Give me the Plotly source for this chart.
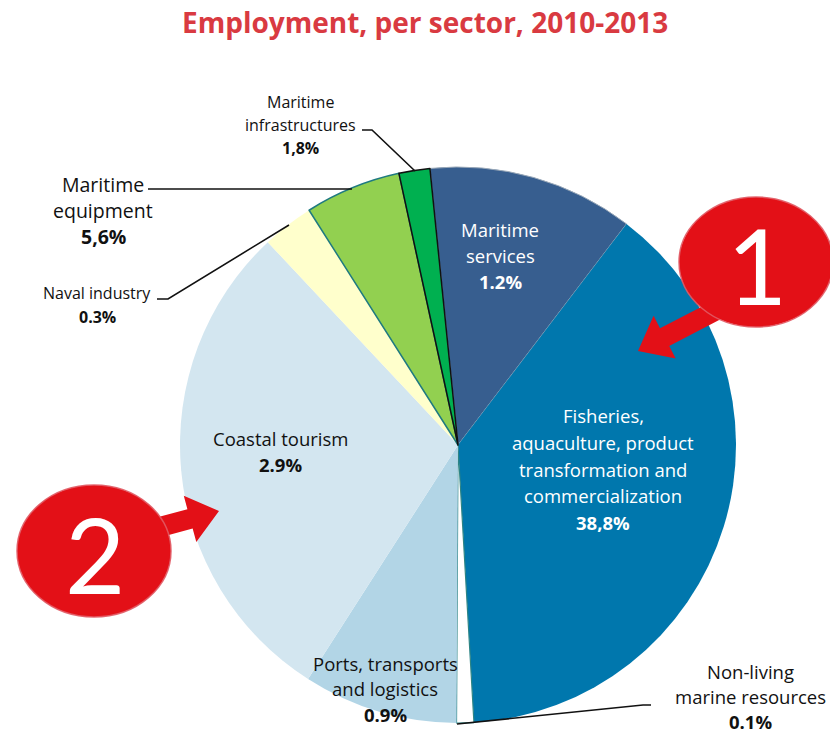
import math
import plotly.graph_objects as go

W, H = 830, 736

# Sector shares (slice sizes, percent of employment)
sectors = [
    "Maritime services",
    "Fisheries, aquaculture, product transformation and commercialization",
    "Non-living marine resources",
    "Ports, transports and logistics",
    "Coastal tourism",
    "Naval industry",
    "Maritime equipment",
    "Maritime infrastructures",
]
shares = [12.0, 38.8, 1.0, 9.0, 29.0, 3.0, 5.6, 1.8]
# Percentage strings printed next to each sector
share_labels = ["1.2%", "38,8%", "0.1%", "0.9%", "2.9%", "0.3%", "5,6%", "1,8%"]

colors = ["#375E8F", "#0077AD", "#FFFFFF", "#B2D5E6", "#D3E6F0", "#FFFFCC", "#92D050", "#00B050"]
line_colors = ["#9AA9B9", "#0077AD", "#2E8585", "#B2D5E6", "#D3E6F0", "#FFFFCC", "#1F7A80", "#111111"]
line_widths = [1, 0, 1.2, 0, 0, 0, 1.5, 1.5]


def px(x):
    return x / W


def py(y):
    return 1 - y / H


# Pie placement (pixels): centre and radius
cx, cy, r = 458, 445, 278

fig = go.Figure(
    go.Pie(
        labels=sectors,
        values=shares,
        sort=False,
        direction="clockwise",
        rotation=-5.8,
        textinfo="none",
        hoverinfo="label+value",
        marker=dict(colors=colors, line=dict(color=line_colors, width=line_widths)),
        domain=dict(x=[px(cx - r), px(cx + r)], y=[py(cy + r), py(cy - r)]),
        showlegend=False,
    )
)

annotations = []
FONT = "Open Sans"


def add_lines(lines, x, y0, step, size, color, pct):
    for i, t in enumerate(lines):
        annotations.append(dict(
            x=px(x), y=py(y0 + i * step), xref="paper", yref="paper",
            text=t, showarrow=False, xanchor="center", yanchor="middle",
            font=dict(family=FONT, size=size, color=color),
        ))
    annotations.append(dict(
        x=px(x), y=py(y0 + len(lines) * step), xref="paper", yref="paper",
        text="<b>" + pct + "</b>", showarrow=False, xanchor="center", yanchor="middle",
        font=dict(family=FONT, size=size, color=color),
    ))


add_lines(["Maritime", "services"], 500, 229, 26, 18.5, "#FFFFFF", share_labels[0])
add_lines(["Fisheries,", "aquaculture, product", "transformation and", "commercialization"],
          603, 416, 26.5, 18.5, "#FFFFFF", share_labels[1])
add_lines(["Non-living", "marine resources"], 750, 671, 25, 18.5, "#111111", share_labels[2])
add_lines(["Ports, transports", "and logistics"], 385, 663, 25.5, 18.5, "#111111", share_labels[3])
add_lines(["Coastal tourism"], 280, 438, 27, 18.5, "#111111", share_labels[4])
add_lines(["Naval industry"], 97, 293, 24, 16, "#111111", share_labels[5])
add_lines(["Maritime", "equipment"], 103, 184, 26, 19.5, "#111111", share_labels[6])
add_lines(["Maritime", "infrastructures"], 300, 102, 23, 16, "#111111", share_labels[7])

# Title
annotations.append(dict(
    x=px(425), y=py(22), xref="paper", yref="paper",
    text="<b>Employment, per sector, 2010-2013</b>", showarrow=False,
    xanchor="center", yanchor="middle",
    font=dict(family=FONT, size=28, color="#D93A41"),
))

shapes = []


def path(points, closed=False):
    d = "M " + " L ".join(f"{px(x):.5f},{py(y):.5f}" for x, y in points)
    return d + (" Z" if closed else "")


# Leader lines from outside labels to their slices
for pts in [
    [(362, 130), (372, 130), (415, 171)],
    [(148, 189), (352, 189)],
    [(157, 299), (168, 299), (289, 225)],
    [(457, 724), (643, 705), (651, 705)],
]:
    shapes.append(dict(type="path", path=path(pts), xref="paper", yref="paper",
                       line=dict(color="#111111", width=1.6)))


def arrow(tail, tip, shaft_hw, head_len, head_hw):
    dx, dy = tip[0] - tail[0], tip[1] - tail[1]
    L = math.hypot(dx, dy)
    ux, uy = dx / L, dy / L
    nx, ny = -uy, ux
    bx, by = tip[0] - head_len * ux, tip[1] - head_len * uy
    pts = [
        (tail[0] + shaft_hw * nx, tail[1] + shaft_hw * ny),
        (bx + shaft_hw * nx, by + shaft_hw * ny),
        (bx + head_hw * nx, by + head_hw * ny),
        tip,
        (bx - head_hw * nx, by - head_hw * ny),
        (bx - shaft_hw * nx, by - shaft_hw * ny),
        (tail[0] - shaft_hw * nx, tail[1] - shaft_hw * ny),
    ]
    return path(pts, closed=True)


RED = "#E31017"
callouts = [
    # (centre x, centre y, rx, ry, number, arrow tail, arrow tip)
    (756, 262, 77, 65, "1", (715, 311), (638, 351)),
    (94, 551, 77, 66, "2", (145, 531), (219, 511)),
]
for ccx, ccy, rx, ry, num, tail, tip in callouts:
    shapes.append(dict(type="path", path=arrow(tail, tip, 10, 30, 24),
                       xref="paper", yref="paper", fillcolor=RED, line=dict(width=0)))
    shapes.append(dict(type="circle", xref="paper", yref="paper",
                       x0=px(ccx - rx), x1=px(ccx + rx), y0=py(ccy + ry), y1=py(ccy - ry),
                       fillcolor=RED, line=dict(color="rgba(225,90,100,0.9)", width=1.5)))
    annotations.append(dict(
        x=px(ccx + 1), y=py(ccy + 2), xref="paper", yref="paper", text=num,
        showarrow=False, xanchor="center", yanchor="middle",
        font=dict(family="Lato", size=104, color="#FFFFFF"),
    ))

fig.update_layout(
    width=W, height=H, autosize=False,
    margin=dict(l=0, r=0, t=0, b=0),
    paper_bgcolor="#FFFFFF", plot_bgcolor="#FFFFFF",
    annotations=annotations, shapes=shapes,
)

fig.write_html("out.html")
